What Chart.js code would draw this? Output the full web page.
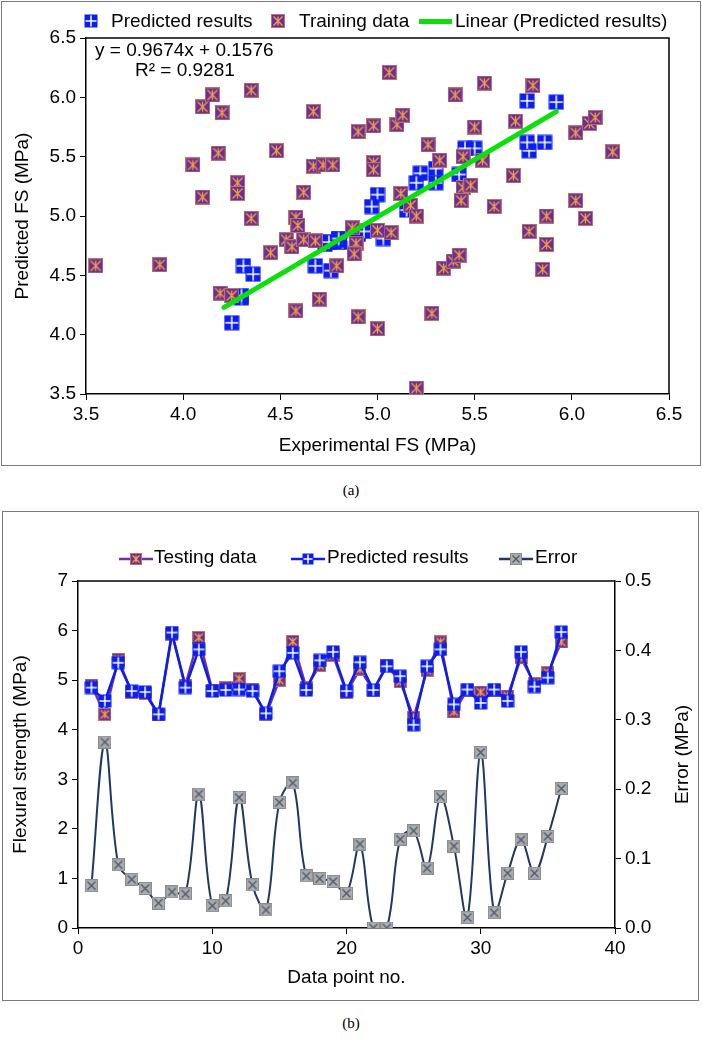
<!DOCTYPE html>
<html>
<head>
<meta charset="utf-8">
<script src="https://cdn.jsdelivr.net/npm/chart.js@4.4.1/dist/chart.umd.min.js"></script>
<style>
body { margin:0; background:#fff; width:702px; height:1049px; position:relative; overflow:hidden; font-family:"Liberation Sans", Arial, sans-serif; }
.frame { position:absolute; border:1px solid #7a7a7a; box-sizing:border-box; pointer-events:none; }
canvas.chart { position:absolute; left:0; }
.lg { position:absolute; font-size:19px; line-height:22px; color:#000; white-space:nowrap; }
.mk { position:absolute; }
.cap { position:absolute; left:0; width:702px; text-align:center; font-family:"Liberation Serif", "Times New Roman", serif; font-size:15px; color:#000; }
</style>
</head>
<body>
<canvas id="chartA" class="chart" width="702" height="470" style="top:0"></canvas>
<canvas id="chartB" class="chart" width="702" height="495" style="top:508px"></canvas>
<div class="frame" style="left:1px;top:1px;width:700px;height:465px"></div>
<div class="frame" style="left:2px;top:511px;width:697px;height:490px"></div>

<div class="cap" style="top:482px">(a)</div>
<div class="cap" style="top:1015px">(b)</div>

<script>
// ---- chart (a): training data scatter
const trainX = [3.55, 3.88, 4.05, 4.10, 4.15, 4.20, 4.18, 4.10, 4.28, 4.28,
                4.35, 4.35, 4.48, 4.67, 4.67, 4.72, 4.77, 4.62, 4.90, 4.98,
                4.98, 4.98, 4.58, 4.59, 4.53, 4.56, 4.62, 4.68, 4.45, 4.70,
                4.58, 4.19, 4.25, 5.10, 5.13, 5.26, 5.32, 5.12, 5.17, 5.20,
                4.87, 4.89, 4.88, 5.00, 5.07, 4.79, 4.90, 5.00, 5.28, 5.34,
                5.39, 5.42, 5.20, 5.06, 5.55, 5.40, 5.80, 5.50, 5.71, 5.44,
                5.54, 6.02, 6.09, 6.12, 6.21, 5.70, 5.44, 5.48, 5.43, 5.60,
                6.02, 5.87, 6.07, 5.78, 5.87, 5.85];
const trainY = [4.58, 4.59, 5.43, 5.92, 6.02, 5.87, 5.53, 5.16, 5.28, 5.19,
                4.98, 6.06, 5.55, 5.88, 5.42, 5.43, 5.43, 5.20, 5.71, 5.76,
                5.45, 5.39, 4.99, 4.92, 4.80, 4.74, 4.80, 4.79, 4.69, 4.30,
                4.20, 4.35, 4.33, 5.77, 5.85, 5.60, 5.47, 5.19, 5.09, 5.00,
                4.90, 4.77, 4.68, 4.88, 4.86, 4.58, 4.15, 4.05, 4.18, 4.56,
                4.62, 4.67, 3.55, 6.21, 6.12, 6.02, 6.10, 5.75, 5.80, 5.50,
                5.47, 5.70, 5.78, 5.83, 5.54, 5.34, 5.24, 5.26, 5.13, 5.08,
                5.13, 5.00, 4.98, 4.87, 4.76, 4.55];
// trend line ends as drawn
const trendX = [4.21, 5.92];
const trendY = [4.23, 5.88];
const eqLines = ['y = 0.9674x + 0.1576', 'R\u00b2 = 0.9281'];
const axisTicksA = [3.5, 4.0, 4.5, 5.0, 5.5, 6.0, 6.5];

// ---- chart (b): testing set, 36 points
const pointNo = [1, 2, 3, 4, 5, 6, 7, 8, 9, 10, 11, 12, 13, 14, 15, 16, 17, 18,
                 19, 20, 21, 22, 23, 24, 25, 26, 27, 28, 29, 30, 31, 32, 33, 34, 35, 36];
const testing = [4.90, 4.31, 5.42, 4.75, 4.73, 4.30, 5.92, 4.90, 5.86, 4.80,
                 4.85, 5.03, 4.82, 4.30, 5.00, 5.78, 4.85, 5.30, 5.50, 4.75,
                 5.22, 4.80, 5.30, 4.97, 4.25, 5.20, 5.77, 4.36, 4.80, 4.76,
                 4.80, 4.68, 5.45, 4.93, 5.15, 5.77];
const predicted = [4.85, 4.58, 5.35, 4.78, 4.76, 4.31, 5.96, 4.85, 5.62, 4.78,
                   4.80, 4.81, 4.78, 4.33, 5.18, 5.55, 4.80, 5.40, 5.57, 4.78,
                   5.36, 4.80, 5.28, 5.08, 4.10, 5.28, 5.62, 4.51, 4.81, 4.54,
                   4.81, 4.58, 5.57, 4.87, 5.05, 5.97];
const errors = [0.061, 0.268, 0.091, 0.070, 0.057, 0.036, 0.052, 0.049, 0.193, 0.032,
                0.039, 0.188, 0.062, 0.026, 0.181, 0.209, 0.075, 0.071, 0.067, 0.050,
                0.121, 0.000, 0.000, 0.128, 0.140, 0.086, 0.189, 0.118, 0.015, 0.253,
                0.022, 0.079, 0.127, 0.079, 0.132, 0.201];

const FONT = '"Liberation Sans", Arial, sans-serif';
const PURPLE = '#7030a0', BLUE = '#0a1ef2', NAVY = '#1f3864', GREEN = '#0be00b';

// marker images (Excel-like)
function predMarker(s) {
  const c = document.createElement('canvas'); c.width = c.height = s;
  const g = c.getContext('2d');
  g.fillStyle = BLUE; g.fillRect(0.5, 0.5, s - 1, s - 1);
  g.strokeStyle = '#fff'; g.lineWidth = 1.5;
  g.beginPath();
  g.moveTo(s / 2, 1.5); g.lineTo(s / 2, s - 1.5);
  g.moveTo(1.5, s / 2); g.lineTo(s - 1.5, s / 2);
  g.stroke();
  return c;
}
function trainMarker(s) {
  const c = document.createElement('canvas'); c.width = c.height = s;
  const g = c.getContext('2d');
  g.fillStyle = '#6b2aa8'; g.fillRect(0, 0, s, s);
  g.strokeStyle = 'rgba(225,150,60,0.7)'; g.lineWidth = 1; g.strokeRect(0.5, 0.5, s - 1, s - 1);
  g.strokeStyle = '#f4a820'; g.lineWidth = 1.3;
  g.beginPath();
  g.moveTo(2.5, 2.5); g.lineTo(s - 2.5, s - 2.5);
  g.moveTo(s - 2.5, 2.5); g.lineTo(2.5, s - 2.5);
  g.moveTo(s / 2, 2.5); g.lineTo(s / 2, s - 2.5);
  g.stroke();
  return c;
}
function errMarker(s) {
  const c = document.createElement('canvas'); c.width = c.height = s;
  const g = c.getContext('2d');
  g.fillStyle = '#adadad'; g.fillRect(0, 0, s, s);
  g.strokeStyle = '#8c8c8c'; g.lineWidth = 1; g.strokeRect(0.5, 0.5, s - 1, s - 1);
  g.strokeStyle = '#4a5872'; g.lineWidth = 1.3;
  g.beginPath();
  g.moveTo(2.5, 2.5); g.lineTo(s - 2.5, s - 2.5);
  g.moveTo(s - 2.5, 2.5); g.lineTo(2.5, s - 2.5);
  g.stroke();
  return c;
}
function lineMarker(color, mk) {
  const c = document.createElement('canvas'); c.width = 34; c.height = 14;
  const g = c.getContext('2d');
  g.strokeStyle = color; g.lineWidth = 2.5;
  g.beginPath(); g.moveTo(0, 7); g.lineTo(34, 7); g.stroke();
  g.drawImage(mk, 17 - mk.width / 2, 7 - mk.height / 2);
  return c;
}

// html legends
function place(el, x, y) { el.style.left = x + 'px'; el.style.top = y + 'px'; el.className = 'mk'; document.body.appendChild(el); }
function text(t, x, y) { const s = document.createElement('div'); s.className = 'lg'; s.textContent = t; s.style.left = x + 'px'; s.style.top = y + 'px'; document.body.appendChild(s); }

place(predMarker(14), 84, 14); text('Predicted results', 111, 10);
place(trainMarker(14), 271, 14); text('Training data', 299, 10);
const gl = document.createElement('div');
gl.style.cssText = 'position:absolute;left:419px;top:19px;width:33px;height:4.5px;background:' + GREEN;
document.body.appendChild(gl);
text('Linear (Predicted results)', 455, 10);

place(lineMarker(PURPLE, trainMarker(12)), 119, 552); text('Testing data', 154, 546);
place(lineMarker(BLUE, predMarker(12)), 291, 552); text('Predicted results', 327, 546);
place(lineMarker(NAVY, errMarker(12)), 499, 552); text('Error', 535, 546);

const tickFont = { family: FONT, size: 19 };
const gridTicks = { display: true, drawOnChartArea: false, drawTicks: true, tickLength: 6, color: '#000', lineWidth: 1 };
const axisBorder = { display: true, color: '#000', width: 1.5 };

const boxPlugin = {
  id: 'box',
  afterDraw(chart, args, opts) {
    const { ctx, chartArea: a } = chart;
    ctx.save();
    ctx.strokeStyle = '#000'; ctx.lineWidth = 1.5;
    ctx.beginPath();
    ctx.moveTo(a.left, a.top); ctx.lineTo(a.right, a.top);
    if (opts.right) ctx.lineTo(a.right, a.bottom);
    ctx.stroke();
    ctx.restore();
  }
};

const eqPlugin = {
  id: 'eq',
  afterDraw(chart) {
    const { ctx, chartArea: a } = chart;
    ctx.save();
    ctx.fillStyle = '#000'; ctx.font = '19px ' + FONT; ctx.textBaseline = 'middle';
    ctx.fillText(eqLines[0], a.left + 9, a.top + 13);
    ctx.fillText(eqLines[1], a.left + 49, a.top + 33);
    ctx.restore();
  }
};

const rightTitle = {
  id: 'rtitle',
  afterDraw(chart) {
    const { ctx, chartArea: a } = chart;
    ctx.save();
    ctx.fillStyle = '#000'; ctx.font = '19px ' + FONT;
    ctx.textAlign = 'center'; ctx.textBaseline = 'middle';
    ctx.translate(683, (a.top + a.bottom) / 2);
    ctx.rotate(-Math.PI / 2);
    ctx.fillText('Error (MPa)', 0, 0);
    ctx.restore();
  }
};

const pm15 = predMarker(16), tm15 = trainMarker(15);

new Chart(document.getElementById('chartA'), {
  type: 'scatter',
  data: {
    datasets: [
      { label: 'Linear (Predicted results)', data: trendX.map((x, i) => ({ x, y: trendY[i] })),
        showLine: true, borderColor: GREEN, borderWidth: 5, borderCapStyle: 'round', pointRadius: 0 },
      { label: 'Training data', data: trainX.map((x, i) => ({ x, y: trainY[i] })),
        pointStyle: tm15, pointRadius: 7 },
      { label: 'Predicted results', data: testing.map((x, i) => ({ x, y: predicted[i] })),
        pointStyle: pm15, pointRadius: 7 }
    ]
  },
  options: {
    responsive: false, animation: false, events: [],
    layout: { padding: { top: 38, right: 33, bottom: 0, left: 0 } },
    plugins: { legend: { display: false }, tooltip: { enabled: false }, box: { right: true } },
    scales: {
      x: {
        type: 'linear', min: axisTicksA[0], max: axisTicksA[axisTicksA.length - 1],
        afterBuildTicks: s => { s.ticks = axisTicksA.map(v => ({ value: v })); },
        ticks: { callback: v => v.toFixed(1), color: '#000', font: tickFont, padding: 3, maxRotation: 0 },
        grid: gridTicks, border: axisBorder,
        title: { display: true, text: 'Experimental FS (MPa)', color: '#000', font: tickFont, padding: { top: 0, bottom: 13 } },
        afterFit: s => { s.height = 76; }
      },
      y: {
        type: 'linear', min: axisTicksA[0], max: axisTicksA[axisTicksA.length - 1],
        afterBuildTicks: s => { s.ticks = axisTicksA.map(v => ({ value: v })); },
        ticks: { callback: v => v.toFixed(1), color: '#000', font: tickFont, padding: 4 },
        grid: gridTicks, border: axisBorder,
        title: { display: true, text: 'Predicted FS (MPa)', color: '#000', font: tickFont, padding: { top: 11, bottom: 0 } },
        afterFit: s => { s.width = 86; }
      }
    }
  },
  plugins: [boxPlugin, eqPlugin]
});

const pm13 = predMarker(14), tm13 = trainMarker(13), em13 = errMarker(13);

new Chart(document.getElementById('chartB'), {
  type: 'line',
  data: {
    datasets: [
      { label: 'Predicted results', data: pointNo.map((x, i) => ({ x, y: predicted[i] })),
        borderColor: BLUE, borderWidth: 2.5, pointStyle: pm13, pointRadius: 6, tension: 0, yAxisID: 'y' },
      { label: 'Testing data', data: pointNo.map((x, i) => ({ x, y: testing[i] })),
        borderColor: PURPLE, borderWidth: 2.5, pointStyle: tm13, pointRadius: 6, tension: 0, yAxisID: 'y' },
      { label: 'Error', data: pointNo.map((x, i) => ({ x, y: errors[i] })),
        borderColor: NAVY, borderWidth: 2, pointStyle: em13, pointRadius: 6, tension: 0.35, yAxisID: 'y2' }
    ]
  },
  options: {
    responsive: false, animation: false, events: [],
    layout: { padding: { top: 73, right: 0, bottom: 0, left: 0 } },
    plugins: { legend: { display: false }, tooltip: { enabled: false }, box: { right: false } },
    scales: {
      x: {
        type: 'linear', min: 0, max: 40,
        ticks: { stepSize: 10, color: '#000', font: tickFont, padding: 3, maxRotation: 0 },
        grid: gridTicks, border: axisBorder,
        title: { display: true, text: 'Data point no.', color: '#000', font: tickFont, padding: { top: 0, bottom: 14 } },
        afterFit: s => { s.height = 75; }
      },
      y: {
        position: 'left', min: 0, max: 7,
        ticks: { stepSize: 1, color: '#000', font: tickFont, padding: 4 },
        grid: gridTicks, border: axisBorder,
        title: { display: true, text: 'Flexural strength (MPa)', color: '#000', font: tickFont, padding: { top: 9, bottom: 0 } },
        afterFit: s => { s.width = 78; }
      },
      y2: {
        position: 'right', min: 0, max: 0.5,
        ticks: { stepSize: 0.1, callback: v => v.toFixed(1), color: '#000', font: tickFont, padding: 4 },
        grid: gridTicks, border: axisBorder,
        afterFit: s => { s.width = 87; }
      }
    }
  },
  plugins: [boxPlugin, rightTitle]
});
</script>
</body>
</html>
